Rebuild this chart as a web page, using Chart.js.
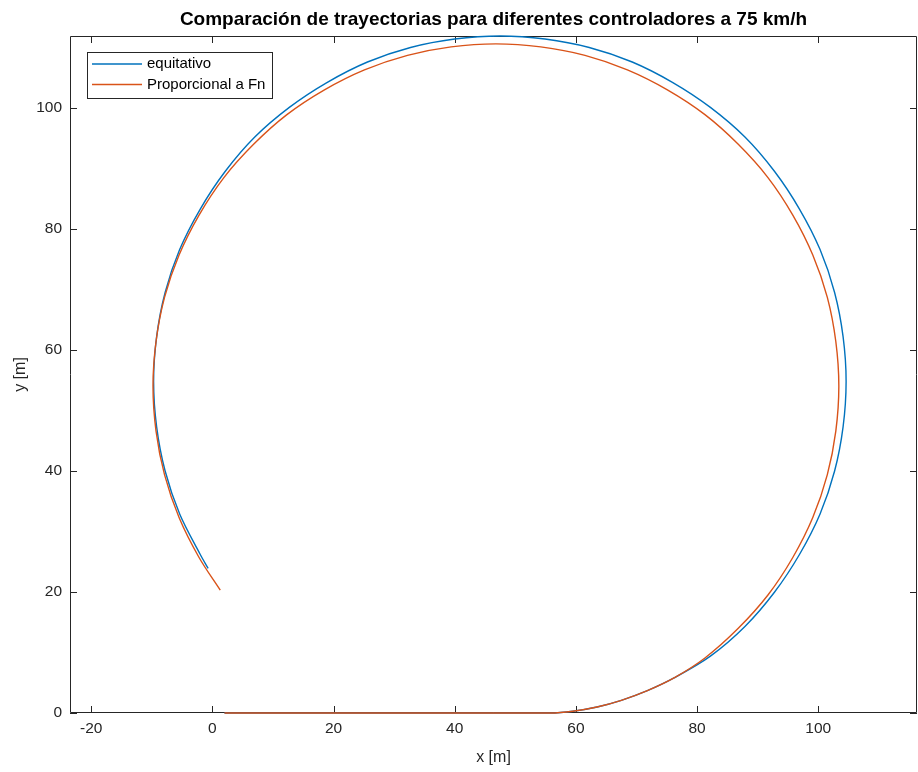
<!DOCTYPE html>
<html>
<head>
<meta charset="utf-8">
<script src="https://cdn.jsdelivr.net/npm/chart.js@4.4.0/dist/chart.umd.min.js"></script>
<style>
  html, body { margin: 0; padding: 0; background: #fff; }
</style>
</head>
<body>
<canvas id="trayectorias" width="918" height="772"></canvas>
<script>
// trajectory data (x [m], y [m])
const equitativoX = [2, 55.8, 59.5, 63.5, 67.5, 71.8, 76.2, 82.2, 87.9, 92.8, 96.9, 100.3, 102.7, 104.1, 104.6, 104.1, 102.7, 100.3, 96.9, 92.8, 87.9, 82.2, 76.0, 69.3, 62.2, 54.9, 47.5, 40.0, 32.7, 25.6, 18.9, 12.7, 7.0, 2.1, -2.0, -5.4, -7.8, -9.2, -9.7, -9.2, -7.8, -5.4, -2.0, -0.7];
const equitativoY = [0, 0, 0.3, 1.0, 2.1, 3.7, 5.8, 9.4, 14.3, 20.0, 26.2, 32.9, 40.0, 47.3, 54.8, 62.2, 69.5, 76.6, 83.3, 89.5, 95.2, 100.1, 104.2, 107.6, 110.0, 111.4, 111.9, 111.4, 110.0, 107.6, 104.2, 100.1, 95.2, 89.5, 83.3, 76.6, 69.5, 62.2, 54.8, 47.3, 40.0, 32.9, 26.2, 23.9];

const proporcionalX = [2, 55.8, 59.5, 63.5, 67.5, 71.8, 76.2, 81.3, 86.8, 91.7, 95.8, 99.1, 101.5, 102.9, 103.4, 102.9, 101.5, 99.1, 95.8, 91.7, 86.8, 81.3, 75.1, 68.5, 61.5, 54.2, 46.8, 39.4, 32.2, 25.1, 18.5, 12.3, 6.8, 1.9, -2.2, -5.5, -7.9, -9.3, -9.8, -9.3, -7.9, -5.5, -2.2, 1.3];
const proporcionalY = [0, 0, 0.3, 1.0, 2.1, 3.7, 5.8, 9.1, 14.0, 19.5, 25.7, 32.3, 39.4, 46.6, 54.0, 61.4, 68.7, 75.7, 82.3, 88.5, 94.0, 98.9, 103.0, 106.3, 108.7, 110.1, 110.6, 110.1, 108.7, 106.3, 103.0, 98.9, 94.0, 88.5, 82.3, 75.7, 68.7, 61.4, 54.0, 46.6, 39.4, 32.3, 25.7, 20.3];

const xTicks = [-20, 0, 20, 40, 60, 80, 100];
const yTicks = [0, 20, 40, 60, 80, 100];

const seriesNames = ['equitativo', 'Proporcional a Fn'];
const seriesColors = ['#0072BD', '#D95319'];

function toPoints(xs, ys) {
    return xs.map((x, i) => ({ x: x, y: ys[i] }));
}

const axisColor = '#262626';
const fontName = "'Liberation Sans', Arial, Helvetica, sans-serif";

// MATLAB style box, inward ticks, title and legend
const matlabAxes = {
    id: 'matlabAxes',
    beforeDatasetsDraw(chart) {
        const ctx = chart.ctx;
        const a = chart.chartArea;
        const xs = chart.scales.x;
        const ys = chart.scales.y;
        const tl = 7;
        ctx.save();
        ctx.strokeStyle = axisColor;
        ctx.lineWidth = 1;
        ctx.beginPath();
        ctx.rect(a.left + 0.5, a.top + 0.5, a.right - a.left - 1, a.bottom - a.top - 1);
        xTicks.forEach(v => {
            const px = Math.round(xs.getPixelForValue(v)) + 0.5;
            ctx.moveTo(px, a.bottom);
            ctx.lineTo(px, a.bottom - tl);
            ctx.moveTo(px, a.top);
            ctx.lineTo(px, a.top + tl);
        });
        yTicks.forEach(v => {
            const py = Math.round(ys.getPixelForValue(v)) + 0.5;
            ctx.moveTo(a.left, py);
            ctx.lineTo(a.left + tl, py);
            ctx.moveTo(a.right, py);
            ctx.lineTo(a.right - tl, py);
        });
        ctx.stroke();
        ctx.restore();
    },
    afterDraw(chart) {
        const ctx = chart.ctx;
        const a = chart.chartArea;
        ctx.save();
        // title
        ctx.fillStyle = '#000';
        ctx.font = 'bold 19px ' + fontName;
        ctx.textAlign = 'center';
        ctx.textBaseline = 'middle';
        ctx.fillText('Comparación de trayectorias para diferentes controladores a 75 km/h', (a.left + a.right) / 2, 20);

        // legend box
        const lx = a.left + 17, ly = a.top + 16, lw = 186, lh = 47;
        ctx.fillStyle = '#fff';
        ctx.fillRect(lx, ly, lw, lh);
        ctx.strokeStyle = axisColor;
        ctx.lineWidth = 1;
        ctx.strokeRect(lx + 0.5, ly + 0.5, lw - 1, lh - 1);
        ctx.font = '15px ' + fontName;
        ctx.textAlign = 'left';
        ctx.textBaseline = 'middle';
        seriesNames.forEach((name, i) => {
            const yy = ly + 12 + i * 20.5;
            ctx.strokeStyle = seriesColors[i];
            ctx.lineWidth = 1.5;
            ctx.beginPath();
            ctx.moveTo(lx + 5, yy);
            ctx.lineTo(lx + 55, yy);
            ctx.stroke();
            ctx.fillStyle = '#000';
            ctx.fillText(name, lx + 60, yy);
        });
        ctx.restore();
    }
};

const ctx = document.getElementById('trayectorias').getContext('2d');

const chart = new Chart(ctx, {
    type: 'scatter',
    data: {
        datasets: [
            {
                label: seriesNames[0],
                data: toPoints(equitativoX, equitativoY),
                borderColor: seriesColors[0],
                backgroundColor: seriesColors[0],
                borderWidth: 1.4,
                showLine: true,
                pointRadius: 0,
                tension: 0.33,
                clip: false,
                order: 1
            },
            {
                label: seriesNames[1],
                data: toPoints(proporcionalX, proporcionalY),
                borderColor: seriesColors[1],
                backgroundColor: seriesColors[1],
                borderWidth: 1.4,
                showLine: true,
                pointRadius: 0,
                tension: 0.33,
                clip: false,
                order: 0
            }
        ]
    },
    options: {
        responsive: false,
        animation: false,
        events: [],
        layout: { padding: { top: 36, right: 1, left: 0, bottom: 0 } },
        plugins: {
            legend: { display: false },
            title: { display: false },
            tooltip: { enabled: false }
        },
        scales: {
            x: {
                type: 'linear',
                min: -23.5,
                max: 116.3,
                afterBuildTicks: s => { s.ticks = xTicks.map(v => ({ value: v })); },
                afterFit: s => { s.height = 59; },
                grid: { display: false, drawTicks: false },
                border: { display: false },
                ticks: {
                    color: axisColor,
                    font: { family: fontName, size: 15.5 },
                    padding: 6,
                    maxRotation: 0
                },
                title: {
                    display: true,
                    text: 'x [m]',
                    color: axisColor,
                    font: { family: fontName, size: 16 },
                    padding: { top: 0, bottom: 5 }
                }
            },
            y: {
                type: 'linear',
                min: 0,
                max: 111.9,
                afterBuildTicks: s => { s.ticks = yTicks.map(v => ({ value: v })); },
                afterFit: s => { s.width = 70; },
                grid: { display: false, drawTicks: false },
                border: { display: false },
                ticks: {
                    color: axisColor,
                    font: { family: fontName, size: 15.5 },
                    padding: 8
                },
                title: {
                    display: true,
                    text: 'y [m]',
                    color: axisColor,
                    font: { family: fontName, size: 16 },
                    padding: { top: 11, bottom: 0 }
                }
            }
        }
    },
    plugins: [matlabAxes]
});
</script>
</body>
</html>
